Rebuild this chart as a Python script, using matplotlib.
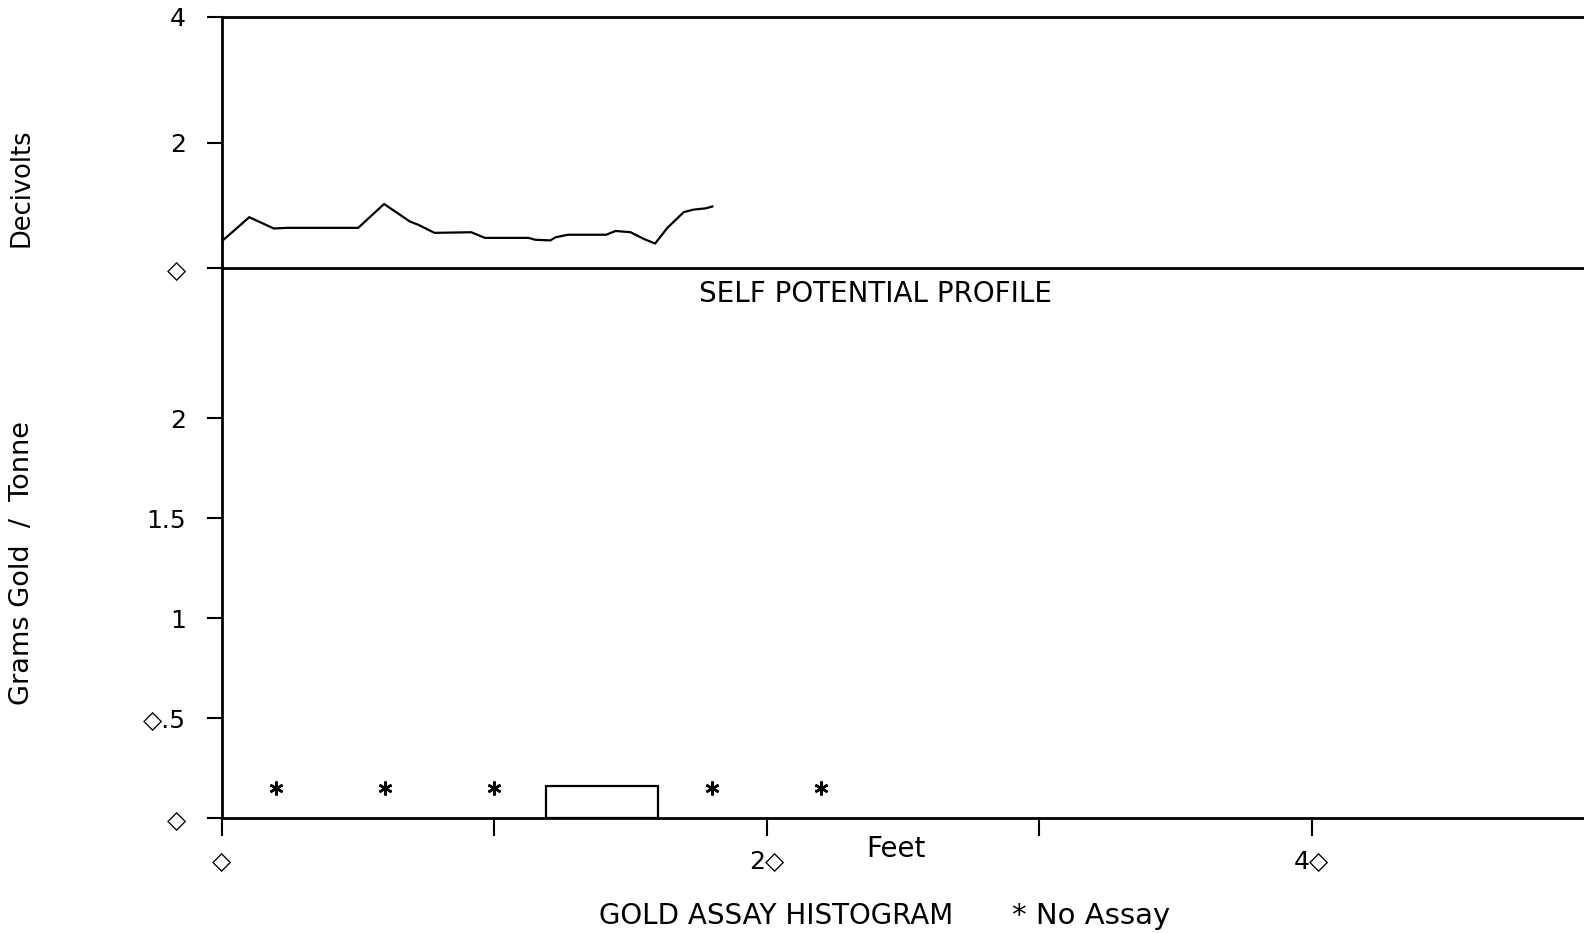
import matplotlib
matplotlib.use("Agg")
import matplotlib.pyplot as plt

# Self potential profile (feet, decivolts)
sp_feet = [0.0, 0.4, 1.0, 1.4, 1.9, 2.4, 5.0, 5.95, 6.9, 7.2, 7.8, 9.15, 9.65,
           11.25, 11.5, 12.05, 12.25, 12.7, 14.1, 14.45, 15.0, 15.5, 15.9,
           16.35, 16.95, 17.3, 17.75, 18.0]
sp_decivolts = [0.43, 0.58, 0.81, 0.73, 0.63, 0.64, 0.64, 1.02, 0.74, 0.69, 0.56,
                0.57, 0.48, 0.48, 0.45, 0.44, 0.49, 0.53, 0.53, 0.59, 0.57, 0.46,
                0.39, 0.64, 0.89, 0.93, 0.95, 0.98]

# Gold assays: 4 ft sample intervals
assay_start = [11.9]
assay_width = [4.1]
assay_grams = [0.16]
no_assay_feet = [2, 6, 10, 18, 22]
no_assay_level = [0.15, 0.15, 0.15, 0.15, 0.15]

x_ticks = [0, 10, 20, 30, 40]
x_ticklabels = ["\u25c7", "", "2\u25c7", "", "4\u25c7"]
sp_ticks = [0, 2, 4]
sp_ticklabels = ["\u25c7", "2", "4"]
au_ticks = [0, 0.5, 1, 1.5, 2]
au_ticklabels = ["\u25c7", "\u25c7.5", "1", "1.5", "2"]

W, H = 1584, 933
fig = plt.figure(figsize=(W / 100, H / 100), dpi=100)
left = 222 / W
ax_top = fig.add_axes([left, 1 - 268 / H, 1 - left, (268 - 17) / H])
ax_bot = fig.add_axes([left, 1 - 818 / H, 1 - left, (818 - 268) / H], sharex=ax_top)

lw_axis = 2.0
fs = 18

# top panel
ax_top.plot(sp_feet, sp_decivolts, color="black", linewidth=1.6)
ax_top.set_ylim(0, 4)
ax_top.set_yticks(sp_ticks)
ax_top.set_yticklabels(sp_ticklabels, fontsize=fs)
ax_top.spines["right"].set_visible(False)
for s in ["top", "bottom", "left"]:
    ax_top.spines[s].set_linewidth(lw_axis)
ax_top.tick_params(axis="x", bottom=False, labelbottom=False)
ax_top.tick_params(axis="y", length=11, width=1.5, pad=15)

# bottom panel
ax_bot.bar(assay_start, assay_grams, width=assay_width, align="edge",
           facecolor="white", edgecolor="black", linewidth=1.6)
ax_bot.plot(no_assay_feet, no_assay_level, linestyle="none", marker=(6, 2, 0),
            markersize=10, markeredgewidth=1.8, color="black")
ax_bot.set_xlim(0, 50)
ax_bot.set_ylim(0, 2.75)
ax_bot.set_xticks(x_ticks)
ax_bot.set_xticklabels(x_ticklabels, fontsize=fs)
ax_bot.set_yticks(au_ticks)
ax_bot.set_yticklabels(au_ticklabels, fontsize=fs)
ax_bot.spines["right"].set_visible(False)
ax_bot.spines["top"].set_visible(False)
ax_bot.spines["left"].set_linewidth(lw_axis)
ax_bot.spines["bottom"].set_linewidth(lw_axis)
ax_bot.tick_params(axis="x", length=13, width=1.5, pad=10)
ax_bot.tick_params(axis="y", length=11, width=1.5, pad=15)

for ax in (ax_top, ax_bot):
    ax.patch.set_alpha(0)

# captions and axis titles
fig.text(876 / W, 1 - 294 / H, "SELF POTENTIAL PROFILE", fontsize=20,
         ha="center", va="center")
fig.text(896 / W, 1 - 849 / H, "Feet", fontsize=20, ha="center", va="center")
fig.text(776 / W, 1 - 916 / H, "GOLD ASSAY HISTOGRAM", fontsize=20,
         ha="center", va="center")
fig.text(1091 / W, 1 - 916 / H, "* No Assay", fontsize=21, ha="center", va="center")
fig.text(22 / W, 1 - 188 / H, "Decivolts", fontsize=18.5, rotation=90,
         ha="center", va="center")
fig.text(22 / W, 1 - 563 / H, "Grams Gold  /  Tonne", fontsize=19.5, rotation=90,
         ha="center", va="center")

fig.savefig("out.png", dpi=100, facecolor="white")
plt.close(fig)
